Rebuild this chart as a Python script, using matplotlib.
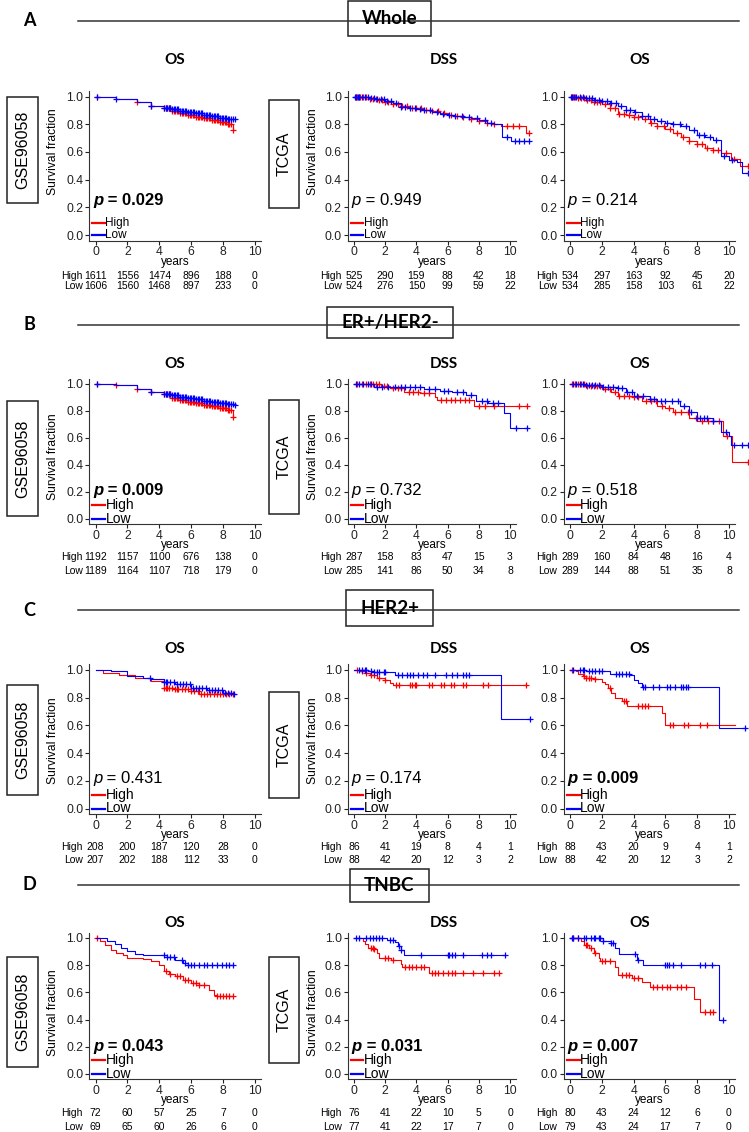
import numpy as np
import matplotlib
matplotlib.use("Agg")
import matplotlib.pyplot as plt
import matplotlib.transforms as mtransforms
from matplotlib.patches import Rectangle

W, H = 749, 1132

# ---------------- labels ----------------
letters = ["A", "B", "C", "D"]
sections = ["Whole", "ER+/HER2-", "HER2+", "TNBC"]
endpoints = ["OS", "DSS", "OS"]
cohorts = ["GSE96058", "TCGA", None]
year_ticks = [0, 2, 4, 6, 8, 10]
surv_ticks = [0.0, 0.2, 0.4, 0.6, 0.8, 1.0]

pvals = [["0.029", "0.949", "0.214"],
         ["0.009", "0.732", "0.518"],
         ["0.431", "0.174", "0.009"],
         ["0.043", "0.031", "0.007"]]
p_bold = [[True, False, False],
          [True, False, False],
          [False, False, True],
          [True, True, True]]

# ---------------- number at risk ----------------
a1_hi_n = [1611, 1556, 1474, 896, 188, 0]
a1_lo_n = [1606, 1560, 1468, 897, 233, 0]
a2_hi_n = [525, 290, 159, 88, 42, 18]
a2_lo_n = [524, 276, 150, 99, 59, 22]
a3_hi_n = [534, 297, 163, 92, 45, 20]
a3_lo_n = [534, 285, 158, 103, 61, 22]
b1_hi_n = [1192, 1157, 1100, 676, 138, 0]
b1_lo_n = [1189, 1164, 1107, 718, 179, 0]
b2_hi_n = [287, 158, 83, 47, 15, 3]
b2_lo_n = [285, 141, 86, 50, 34, 8]
b3_hi_n = [289, 160, 84, 48, 16, 4]
b3_lo_n = [289, 144, 88, 51, 35, 8]
c1_hi_n = [208, 200, 187, 120, 28, 0]
c1_lo_n = [207, 202, 188, 112, 33, 0]
c2_hi_n = [86, 41, 19, 8, 4, 1]
c2_lo_n = [88, 42, 20, 12, 3, 2]
c3_hi_n = [88, 43, 20, 9, 4, 1]
c3_lo_n = [88, 42, 20, 12, 3, 2]
d1_hi_n = [72, 60, 57, 25, 7, 0]
d1_lo_n = [69, 65, 60, 26, 6, 0]
d2_hi_n = [76, 41, 22, 10, 5, 0]
d2_lo_n = [77, 41, 22, 17, 7, 0]
d3_hi_n = [80, 43, 24, 12, 6, 0]
d3_lo_n = [79, 43, 24, 17, 7, 0]

# ---------------- KM curves (step times / survival, censor times) ----------------
gse_dense = [4.3, 4.4, 4.5, 4.6, 4.7, 4.8, 4.9, 5.0, 5.1, 5.2, 5.3, 5.4, 5.5, 5.6, 5.7, 5.8, 5.9,
             6.0, 6.1, 6.2, 6.3, 6.4, 6.5, 6.6, 6.7, 6.8, 6.9, 7.0, 7.1, 7.2, 7.3, 7.4, 7.5, 7.6,
             7.7, 7.8, 7.9, 8.0, 8.1, 8.2, 8.3, 8.4, 8.5, 8.6]

a1_hi_t = [0, 1.3, 2.6, 3.5, 4.3, 4.8, 5.3, 5.8, 6.3, 6.8, 7.3, 7.8, 8.3, 8.6, 8.7]
a1_hi_s = [1.0, 0.985, 0.96, 0.935, 0.915, 0.895, 0.883, 0.87, 0.855, 0.845, 0.83, 0.815, 0.80, 0.76, 0.76]
a1_hi_c = [0.1, 2.6, 3.5] + gse_dense
a1_lo_t = [0, 1.3, 2.6, 3.5, 4.3, 4.8, 5.3, 5.8, 6.3, 6.8, 7.3, 7.8, 8.3, 8.75]
a1_lo_s = [1.0, 0.985, 0.96, 0.935, 0.92, 0.908, 0.898, 0.888, 0.878, 0.868, 0.858, 0.848, 0.84, 0.84]
a1_lo_c = [0.1, 1.3, 3.5] + gse_dense + [8.75]

a2_hi_t = [0, 0.5, 1.0, 1.5, 2.0, 2.5, 3.0, 3.5, 4.0, 4.5, 5.0, 5.5, 6.0, 6.5, 7.0, 7.5, 8.0, 8.5, 9.0, 9.4, 11.0, 11.2]
a2_hi_s = [1.0, 0.995, 0.985, 0.975, 0.962, 0.945, 0.928, 0.92, 0.915, 0.905, 0.895, 0.883, 0.87, 0.862,
           0.855, 0.84, 0.82, 0.81, 0.80, 0.787, 0.74, 0.74]
a2_hi_c = [0.1, 0.2, 0.3, 0.4, 0.6, 0.8, 1.0, 1.2, 1.4, 1.6, 1.8, 2.0, 2.2, 2.5, 2.8, 3.1, 3.4, 3.7, 4.0,
           4.3, 4.6, 5.0, 5.4, 5.8, 6.2, 6.6, 7.0, 7.5, 8.0, 8.5, 9.0, 9.8, 10.2, 10.6, 11.2]
a2_lo_t = [0, 0.5, 1.0, 1.5, 2.0, 2.5, 3.0, 3.5, 4.0, 4.5, 5.0, 5.5, 6.0, 6.5, 7.0, 7.5, 8.0, 8.5, 9.0, 9.5, 10.05, 11.2]
a2_lo_s = [1.0, 0.997, 0.99, 0.98, 0.965, 0.95, 0.925, 0.915, 0.91, 0.90, 0.885, 0.875, 0.865, 0.86,
           0.855, 0.845, 0.83, 0.81, 0.80, 0.71, 0.68, 0.68]
a2_lo_c = [0.05, 0.15, 0.25, 0.35, 0.5, 0.7, 0.9, 1.1, 1.3, 1.5, 1.7, 1.9, 2.1, 2.4, 2.7, 3.0, 3.3, 3.6,
           3.9, 4.2, 4.5, 4.9, 5.3, 5.7, 6.1, 6.5, 6.9, 7.4, 7.9, 8.4, 8.8, 9.8, 10.3, 10.6, 10.9, 11.2]

a3_hi_t = [0, 0.5, 1.0, 1.5, 2.0, 2.5, 3.0, 3.5, 4.0, 4.5, 5.0, 5.5, 6.0, 6.5, 7.0, 7.5, 8.0, 8.5, 9.0,
           9.5, 10.1, 10.7, 11.2]
a3_hi_s = [1.0, 0.99, 0.978, 0.962, 0.945, 0.915, 0.875, 0.865, 0.852, 0.835, 0.81, 0.79, 0.765, 0.735,
           0.71, 0.68, 0.655, 0.63, 0.615, 0.59, 0.55, 0.495, 0.495]
a3_hi_c = [0.1, 0.2, 0.3, 0.5, 0.7, 0.9, 1.1, 1.3, 1.5, 1.7, 1.9, 2.2, 2.5, 2.8, 3.1, 3.4, 3.7, 4.0, 4.3,
           4.7, 5.1, 5.5, 5.9, 6.3, 6.7, 7.1, 7.5, 8.0, 8.3, 8.6, 9.0, 9.3, 9.8, 10.3, 11.2]
a3_lo_t = [0, 0.5, 1.0, 1.5, 2.0, 2.5, 3.0, 3.5, 4.0, 4.5, 5.0, 5.5, 6.0, 6.5, 7.0, 7.5, 8.0, 8.5, 9.0,
           9.5, 10.0, 10.5, 10.8, 11.2]
a3_lo_s = [1.0, 0.997, 0.99, 0.978, 0.965, 0.95, 0.93, 0.905, 0.885, 0.86, 0.835, 0.82, 0.81, 0.805,
           0.79, 0.76, 0.72, 0.705, 0.685, 0.57, 0.545, 0.53, 0.45, 0.45]
a3_lo_c = [0.05, 0.15, 0.25, 0.4, 0.6, 0.8, 1.0, 1.2, 1.4, 1.6, 1.8, 2.0, 2.3, 2.6, 2.9, 3.2, 3.5, 3.8,
           4.1, 4.5, 4.9, 5.3, 5.7, 6.1, 6.5, 6.9, 7.3, 7.8, 8.1, 8.4, 8.8, 9.2, 9.7, 10.2, 11.2]

b1_hi_t = [0, 1.3, 2.6, 3.5, 4.3, 4.8, 5.3, 5.8, 6.3, 6.8, 7.3, 7.8, 8.3, 8.6, 8.7]
b1_hi_s = [1.0, 0.99, 0.963, 0.94, 0.926, 0.895, 0.88, 0.868, 0.857, 0.845, 0.835, 0.822, 0.81, 0.753, 0.753]
b1_hi_c = [0.1, 1.3, 2.6, 3.5] + gse_dense
b1_lo_t = [0, 1.3, 2.6, 3.5, 4.3, 4.8, 5.3, 5.8, 6.3, 6.8, 7.3, 7.8, 8.3, 8.75]
b1_lo_s = [1.0, 0.99, 0.963, 0.94, 0.926, 0.916, 0.906, 0.895, 0.885, 0.875, 0.866, 0.857, 0.85, 0.847]
b1_lo_c = [0.1, 3.5] + gse_dense + [8.75]

b2_hi_t = [0, 1.7, 2.3, 3.2, 4.2, 5.2, 5.3, 7.7, 11.1]
b2_hi_s = [1.0, 0.988, 0.968, 0.943, 0.93, 0.90, 0.88, 0.837, 0.837]
b2_hi_c = [0.2, 0.5, 0.8, 1.0, 1.2, 1.4, 1.6, 1.9, 2.1, 2.5, 2.8, 3.0, 3.5, 3.8, 4.1, 4.5, 4.8, 5.6,
           5.9, 6.2, 6.5, 6.8, 7.1, 7.4, 8.0, 8.4, 9.0, 10.6, 11.1]
b2_lo_t = [0, 1.3, 2.0, 4.5, 5.5, 6.3, 7.2, 7.8, 8.6, 9.6, 10.0, 11.1]
b2_lo_s = [1.0, 0.98, 0.975, 0.96, 0.95, 0.943, 0.92, 0.87, 0.857, 0.785, 0.67, 0.67]
b2_lo_c = [0.1, 0.3, 0.6, 0.9, 1.1, 1.5, 1.8, 2.2, 2.6, 3.0, 3.3, 3.6, 3.9, 4.2, 4.8, 5.2, 5.8, 6.0,
           6.6, 7.0, 7.5, 8.2, 8.5, 8.9, 9.2, 10.4, 11.1]

b3_hi_t = [0, 1.0, 2.0, 2.6, 3.0, 4.0, 4.5, 5.5, 6.0, 6.5, 7.5, 8.0, 9.6, 10.2, 11.2]
b3_hi_s = [1.0, 0.988, 0.963, 0.94, 0.913, 0.906, 0.876, 0.84, 0.82, 0.79, 0.75, 0.727, 0.61, 0.417, 0.417]
b3_hi_c = [0.1, 0.3, 0.5, 0.7, 0.9, 1.1, 1.3, 1.5, 1.7, 1.9, 2.2, 2.5, 2.8, 3.1, 3.4, 3.7, 4.0, 4.3,
           4.8, 5.1, 5.4, 5.8, 6.2, 6.6, 7.0, 7.4, 7.9, 8.3, 8.7, 9.0, 9.4, 9.9, 11.2]
b3_lo_t = [0, 1.0, 2.0, 3.0, 3.5, 4.0, 5.0, 5.5, 6.9, 7.5, 8.0, 9.0, 9.5, 10.0, 10.1, 11.2]
b3_lo_s = [1.0, 0.99, 0.975, 0.968, 0.94, 0.913, 0.89, 0.876, 0.84, 0.79, 0.75, 0.727, 0.64, 0.615,
           0.546, 0.546]
b3_lo_c = [0.2, 0.4, 0.6, 0.8, 1.0, 1.2, 1.4, 1.6, 1.8, 2.1, 2.4, 2.7, 3.0, 3.3, 3.6, 3.9, 4.2, 4.6,
           5.0, 5.3, 5.7, 6.0, 6.4, 6.8, 7.2, 7.6, 8.0, 8.2, 8.4, 8.6, 9.0, 9.8, 10.3, 10.8, 11.2]

c1_hi_t = [0, 0.5, 1.5, 2.5, 3.5, 4.3, 5.0, 6.0, 6.5, 8.7]
c1_hi_s = [1.0, 0.98, 0.964, 0.94, 0.92, 0.873, 0.86, 0.845, 0.825, 0.825]
c1_hi_c = [4.3, 4.4, 4.5, 4.6, 4.8, 5.0, 5.1, 5.2, 5.4, 5.6, 5.8, 6.0, 6.2, 6.4, 6.6, 6.8, 7.0, 7.2,
           7.4, 7.6, 7.8, 8.0, 8.2, 8.4, 8.6]
c1_lo_t = [0, 1.0, 2.0, 3.0, 3.5, 4.3, 5.0, 6.0, 7.0, 8.0, 8.7]
c1_lo_s = [1.0, 0.993, 0.957, 0.945, 0.938, 0.91, 0.897, 0.873, 0.854, 0.837, 0.83]
c1_lo_c = [3.4, 4.3, 4.4, 4.5, 4.7, 4.9, 5.1, 5.3, 5.5, 5.7, 5.9, 6.1, 6.3, 6.5, 6.7, 6.9, 7.1, 7.3,
           7.5, 7.7, 7.9, 8.1, 8.3, 8.5, 8.7]

c2_hi_t = [0, 0.3, 0.7, 1.0, 1.5, 2.0, 2.3, 2.5, 11.0]
c2_hi_s = [1.0, 0.99, 0.976, 0.964, 0.945, 0.928, 0.909, 0.889, 0.889]
c2_hi_c = [0.2, 0.5, 0.8, 1.1, 1.3, 1.6, 2.0, 2.7, 2.9, 3.6, 3.7, 3.9, 4.0, 4.8, 5.0, 5.6, 5.8, 6.2,
           6.4, 7.0, 7.2, 8.3, 8.6, 11.0]
c2_lo_t = [0, 0.9, 1.3, 2.6, 9.4, 11.3]
c2_lo_s = [1.0, 0.993, 0.985, 0.964, 0.644, 0.644]
c2_lo_c = [0.3, 0.5, 0.7, 0.8, 1.1, 1.3, 1.5, 1.6, 1.9, 2.0, 2.8, 3.1, 3.4, 3.6, 3.8, 4.1, 4.4, 4.7,
           5.2, 5.9, 6.3, 6.6, 7.0, 7.2, 7.4, 11.3]

c3_hi_t = [0, 0.4, 0.5, 0.8, 1.0, 1.5, 2.0, 2.2, 2.4, 2.6, 2.8, 3.3, 3.6, 5.8, 6.0, 10.4]
c3_hi_s = [1.0, 0.993, 0.969, 0.957, 0.945, 0.933, 0.913, 0.897, 0.873, 0.837, 0.80, 0.776, 0.74,
           0.692, 0.60, 0.60]
c3_hi_c = [0.1, 0.9, 1.0, 1.2, 1.3, 1.6, 2.5, 3.4, 3.5, 4.3, 4.5, 4.7, 4.9, 6.3, 6.5, 7.2, 7.4, 8.2, 8.6]
c3_lo_t = [0, 1.0, 2.0, 2.5, 3.8, 4.0, 4.3, 4.5, 9.4, 11.0]
c3_lo_s = [1.0, 0.993, 0.99, 0.974, 0.962, 0.928, 0.909, 0.877, 0.58, 0.58]
c3_lo_c = [0.2, 0.6, 0.8, 0.9, 1.2, 1.4, 1.6, 1.8, 2.0, 2.9, 3.1, 3.3, 3.5, 3.7, 4.6, 4.7, 5.2, 5.6,
           6.1, 6.3, 6.6, 7.0, 7.1, 7.3, 7.4, 11.0]

d1_hi_t = [0, 0.3, 0.6, 1.0, 1.3, 1.7, 2.0, 3.0, 3.5, 4.0, 4.3, 4.6, 5.0, 5.5, 6.0, 6.5, 7.1, 7.4, 7.6, 8.6]
d1_hi_s = [1.0, 0.975, 0.95, 0.914, 0.89, 0.877, 0.853, 0.848, 0.828, 0.803, 0.754, 0.735, 0.717,
           0.693, 0.668, 0.656, 0.62, 0.582, 0.57, 0.57]
d1_hi_c = [0.1, 4.4, 4.7, 5.1, 5.3, 5.6, 5.8, 6.1, 6.3, 6.5, 6.8, 7.6, 7.8, 8.0, 8.2, 8.4, 8.6]
d1_lo_t = [0, 0.7, 1.2, 1.6, 2.0, 2.5, 3.0, 4.0, 4.5, 5.0, 5.5, 5.8, 8.6]
d1_lo_s = [1.0, 0.98, 0.956, 0.926, 0.907, 0.882, 0.877, 0.872, 0.857, 0.84, 0.816, 0.803, 0.803]
d1_lo_c = [4.3, 4.5, 4.7, 4.9, 5.4, 5.6, 5.8, 6.0, 6.2, 6.5, 6.8, 7.0, 7.3, 7.6, 7.9, 8.2, 8.4, 8.6]

d2_hi_t = [0, 0.6, 0.7, 0.9, 1.3, 1.5, 1.6, 2.4, 3.0, 3.1, 4.8, 9.3]
d2_hi_s = [1.0, 0.98, 0.956, 0.93, 0.92, 0.887, 0.853, 0.838, 0.809, 0.79, 0.74, 0.74]
d2_hi_c = [1.1, 1.2, 1.3, 2.0, 2.2, 2.5, 3.3, 3.5, 3.7, 4.0, 4.3, 4.5, 5.0, 5.2, 5.4, 5.7, 6.0, 6.3,
           6.5, 7.0, 7.6, 8.3, 9.0, 9.3]
d2_lo_t = [0, 2.1, 2.6, 2.8, 3.0, 3.2, 9.7]
d2_lo_s = [1.0, 0.985, 0.968, 0.944, 0.912, 0.875, 0.875]
d2_lo_c = [0.1, 0.3, 0.8, 1.0, 1.2, 1.4, 1.6, 1.8, 2.3, 2.5, 2.9, 3.0, 4.3, 6.0, 6.1, 6.3, 6.5, 7.0,
           8.2, 8.5, 8.8, 9.7]

d3_hi_t = [0, 0.7, 0.9, 1.2, 1.5, 1.8, 1.9, 2.8, 3.0, 3.9, 4.5, 5.0, 7.8, 8.2, 9.1]
d3_hi_s = [1.0, 0.975, 0.95, 0.925, 0.888, 0.85, 0.83, 0.79, 0.73, 0.706, 0.677, 0.64, 0.55, 0.453, 0.453]
d3_hi_c = [0.2, 0.5, 1.0, 1.1, 1.3, 1.6, 2.0, 2.2, 2.5, 3.3, 3.5, 3.7, 4.0, 4.3, 5.2, 5.5, 5.8, 6.1,
           6.3, 6.7, 7.0, 7.3, 8.5, 8.8, 9.0]
d3_lo_t = [0, 2.1, 2.6, 2.8, 3.1, 4.2, 4.6, 9.4, 9.6]
d3_lo_s = [1.0, 0.98, 0.963, 0.93, 0.88, 0.838, 0.80, 0.40, 0.40]
d3_lo_c = [0.1, 0.2, 0.5, 0.9, 1.0, 1.3, 1.5, 1.6, 1.8, 1.9, 2.1, 2.6, 2.7, 4.1, 4.3, 6.0, 6.1, 6.2,
           6.5, 7.0, 8.2, 8.5, 8.9, 9.6]

panels = [
    [(a1_hi_t, a1_hi_s, a1_hi_c, a1_lo_t, a1_lo_s, a1_lo_c, a1_hi_n, a1_lo_n),
     (a2_hi_t, a2_hi_s, a2_hi_c, a2_lo_t, a2_lo_s, a2_lo_c, a2_hi_n, a2_lo_n),
     (a3_hi_t, a3_hi_s, a3_hi_c, a3_lo_t, a3_lo_s, a3_lo_c, a3_hi_n, a3_lo_n)],
    [(b1_hi_t, b1_hi_s, b1_hi_c, b1_lo_t, b1_lo_s, b1_lo_c, b1_hi_n, b1_lo_n),
     (b2_hi_t, b2_hi_s, b2_hi_c, b2_lo_t, b2_lo_s, b2_lo_c, b2_hi_n, b2_lo_n),
     (b3_hi_t, b3_hi_s, b3_hi_c, b3_lo_t, b3_lo_s, b3_lo_c, b3_hi_n, b3_lo_n)],
    [(c1_hi_t, c1_hi_s, c1_hi_c, c1_lo_t, c1_lo_s, c1_lo_c, c1_hi_n, c1_lo_n),
     (c2_hi_t, c2_hi_s, c2_hi_c, c2_lo_t, c2_lo_s, c2_lo_c, c2_hi_n, c2_lo_n),
     (c3_hi_t, c3_hi_s, c3_hi_c, c3_lo_t, c3_lo_s, c3_lo_c, c3_hi_n, c3_lo_n)],
    [(d1_hi_t, d1_hi_s, d1_hi_c, d1_lo_t, d1_lo_s, d1_lo_c, d1_hi_n, d1_lo_n),
     (d2_hi_t, d2_hi_s, d2_hi_c, d2_lo_t, d2_lo_s, d2_lo_c, d2_hi_n, d2_lo_n),
     (d3_hi_t, d3_hi_s, d3_hi_c, d3_lo_t, d3_lo_s, d3_lo_c, d3_hi_n, d3_lo_n)],
]

# ---------------- layout (pixel anchors) ----------------
col_x0 = [95.5, 354, 570]       # pixel of year 0
col_x10 = [255, 510, 729]       # pixel of year 10
row_y1 = [96.5, 384, 670, 938]  # pixel of 1.0
row_y0 = [235, 518.5, 808.5, 1074]  # pixel of 0.0
header_y = [21, 325, 610, 885]
header_box = [(348, 1, 431, 36), (327, 307, 453, 338), (346, 590, 433, 626), (350, 869, 429, 902)]
title_x = [175, 444, 640]
title_y = [60, 364, 649, 923]
ylab_y = [152, 457, 741, 1013]
ylab_x = [53, 313]
gse_box = [(97, 203), (401, 516), (685, 795), (957, 1067)]
tcga_box = [(100, 208), (400, 514), (692, 798), (957, 1063)]
tab_hi_y = [276, 557, 847, 1113]
tab_lo_y = [286, 571, 860, 1127]
p_y = [0.22, 0.175, 0.185, 0.17]
leg_fs = [8.5, 10, 10, 10]
leg_hi_y = [0.09, 0.10, 0.10, 0.10]

RED = "#FF0000"
BLUE = "#0000FF"
SANS = ["Liberation Sans", "DejaVu Sans"]
HEAD = ["Lato", "DejaVu Sans"]

plt.rcParams['font.family'] = SANS

fig = plt.figure(figsize=(W / 100, H / 100), dpi=100)


def fx(px):
    return px / W


def fy(py):
    return 1 - py / H


def km(ax, t, s, c, color):
    t = np.asarray(t, float)
    s = np.asarray(s, float)
    ax.step(t, s, where='post', color=color, lw=0.8, clip_on=False, zorder=3)
    c = np.asarray(c, float)
    idx = np.clip(np.searchsorted(t, c, side='right') - 1, 0, len(s) - 1)
    ax.plot(c, s[idx], ls='none', marker='+', ms=5, mew=0.9, color=color, clip_on=False, zorder=3)


for r in range(4):
    # section header
    fig.add_artist(plt.Line2D([fx(78), fx(739)], [fy(header_y[r]), fy(header_y[r])],
                              transform=fig.transFigure, color='#333333', lw=1.1))
    fig.text(fx(29), fy(header_y[r]), letters[r], ha='center', va='center',
             fontsize=13, fontweight='bold', family=HEAD)
    bx0, by0, bx1, by1 = header_box[r]
    fig.add_artist(Rectangle((fx(bx0), fy(by1)), (bx1 - bx0) / W, (by1 - by0) / H,
                             transform=fig.transFigure, facecolor='white', edgecolor='#222222', lw=1.1))
    fig.text(fx((bx0 + bx1) / 2), fy((by0 + by1) / 2), sections[r], ha='center', va='center',
             fontsize=13.5, fontweight='bold', family=HEAD)

    for c in range(3):
        x0, x10 = col_x0[c], col_x10[c]
        y1, y0 = row_y1[r], row_y0[r]
        sx = (x10 - x0) / 10.0
        sy = y0 - y1
        left = x0 - 0.4 * sx
        right = x0 + 10.4 * sx
        top = y1 - 0.04 * sy
        bottom = y0 + 0.04 * sy
        ax = fig.add_axes([fx(left), fy(bottom), (right - left) / W, (bottom - top) / H])
        ax.set_xlim(-0.4, 10.4)
        ax.set_ylim(-0.04, 1.04)
        for sp in ['top', 'right']:
            ax.spines[sp].set_visible(False)
        for sp in ['left', 'bottom']:
            ax.spines[sp].set_linewidth(0.8)
            ax.spines[sp].set_color('#333333')
        ax.set_xticks(year_ticks)
        ax.set_yticks(surv_ticks)
        ax.set_yticklabels(["%.1f" % v for v in surv_ticks])
        ax.tick_params(length=3, width=0.8, pad=1.2, labelsize=8.7, colors='#222222')
        ax.patch.set_alpha(0)

        hi_t, hi_s, hi_c, lo_t, lo_s, lo_c, hi_n, lo_n = panels[r][c]
        km(ax, hi_t, hi_s, hi_c, RED)
        km(ax, lo_t, lo_s, lo_c, BLUE)

        # p value
        bold = 'bold' if p_bold[r][c] else 'normal'
        t1 = ax.text(-0.15, p_y[r], "p", fontsize=12, style='italic', fontweight=bold, va='baseline')
        ax.annotate(" = " + pvals[r][c], xy=(1, 0), xycoords=t1, va='bottom', ha='left',
                    fontsize=12, fontweight=bold)

        # legend
        ax.plot([-0.2, 0.6], [leg_hi_y[r], leg_hi_y[r]], color=RED, lw=1.6, clip_on=False)
        ax.plot([-0.2, 0.6], [0.0, 0.0], color=BLUE, lw=1.6, clip_on=False)
        ax.text(0.62, leg_hi_y[r], "High", fontsize=leg_fs[r], va='center', ha='left')
        ax.text(0.62, 0.0, "Low", fontsize=leg_fs[r], va='center', ha='left')

        # title
        fig.text(fx(title_x[c]), fy(title_y[r]), endpoints[c], ha='center', va='center',
                 fontsize=11, fontweight='bold', family=HEAD)

        # x label
        fig.text(fx(x0 + 5 * sx), fy(y0 + 26.5), "years", ha='center', va='center', fontsize=8.5)

        # y label
        if c < 2:
            fig.text(fx(ylab_x[c]), fy(ylab_y[r]), "Survival fraction", rotation=90,
                     ha='center', va='center', fontsize=8.7)

        # number at risk
        tr = mtransforms.blended_transform_factory(ax.transData, fig.transFigure)
        for v, n in zip(year_ticks, hi_n):
            ax.text(v, fy(tab_hi_y[r]), str(n), transform=tr, ha='center', va='center', fontsize=7.5)
        for v, n in zip(year_ticks, lo_n):
            ax.text(v, fy(tab_lo_y[r]), str(n), transform=tr, ha='center', va='center', fontsize=7.5)
        ax.text(-0.8, fy(tab_hi_y[r]), "High", transform=tr, ha='right', va='center', fontsize=7.5)
        ax.text(-0.8, fy(tab_lo_y[r]), "Low", transform=tr, ha='right', va='center', fontsize=7.5)

    # cohort boxes
    for (bx0, bx1), (by0, by1), name in [((7, 38), gse_box[r], "GSE96058"), ((269, 299), tcga_box[r], "TCGA")]:
        fig.add_artist(Rectangle((fx(bx0), fy(by1)), (bx1 - bx0) / W, (by1 - by0) / H,
                                 transform=fig.transFigure, facecolor='white', edgecolor='#222222', lw=1.1))
        fig.text(fx((bx0 + bx1) / 2), fy((by0 + by1) / 2), name, rotation=90, ha='center', va='center',
                 fontsize=11.5)

fig.savefig("out.png", dpi=100)
